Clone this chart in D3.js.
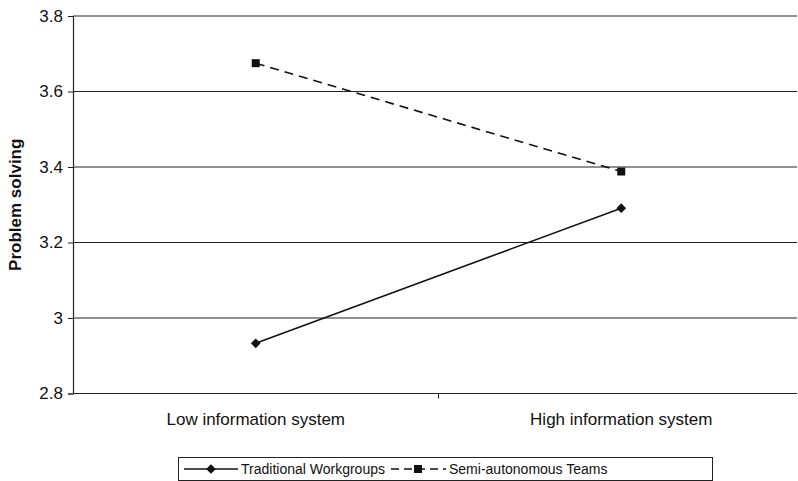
<!DOCTYPE html>
<html>
<head>
<meta charset="utf-8">
<script src="https://cdn.jsdelivr.net/npm/d3@7"></script>
<style>
  body { margin: 0; background: #fff; }
  svg { display: block; font-family: "Liberation Sans", Arial, sans-serif; }
</style>
</head>
<body>
<div id="root"></div>
<script>
const categories = ["Low information system", "High information system"];
const traditional = [2.933, 3.291];
const semiAuto = [3.675, 3.388];
const seriesNames = ["Traditional Workgroups", "Semi-autonomous Teams"];
const yTicks = [2.8, 3, 3.2, 3.4, 3.6, 3.8];

const width = 798;
const height = 481;
const plotLeft = 73, plotRight = 797, plotTop = 16, plotBottom = 393.5;

const svg = d3.select("#root")
  .append("svg")
  .attr("width", width)
  .attr("height", height);

const x = d3.scaleBand().domain(categories).range([plotLeft, 804]);
const y = d3.scaleLinear().domain([2.8, 3.8]).range([plotBottom, plotTop]);
const cx = d => x(d) + x.bandwidth() / 2;

// gridlines
svg.append("g")
  .selectAll("line")
  .data(yTicks)
  .join("line")
    .attr("x1", plotLeft)
    .attr("x2", plotRight)
    .attr("y1", d => y(d))
    .attr("y2", d => y(d))
    .attr("stroke", "#222")
    .attr("stroke-width", 1.2);

// y axis
const yAxis = svg.append("g")
  .attr("transform", `translate(${plotLeft},0)`)
  .call(d3.axisLeft(y).tickValues(yTicks).tickSize(5).tickPadding(5)
    .tickFormat(d => d3.format("")(d)));
yAxis.select(".domain").attr("stroke", "#222").attr("stroke-width", 1.2);
yAxis.selectAll(".tick line").attr("stroke", "#222");
yAxis.selectAll("text").attr("font-size", 17).attr("fill", "#111")
  .attr("font-family", "Liberation Sans, Arial, sans-serif");

// x axis
const xAxis = svg.append("g")
  .attr("transform", `translate(0,${plotBottom})`)
  .call(d3.axisBottom(x).tickSize(0).tickPadding(19));
xAxis.select(".domain").remove();
xAxis.selectAll("text").attr("font-size", 17).attr("fill", "#111")
  .attr("font-family", "Liberation Sans, Arial, sans-serif");
svg.append("line")
  .attr("x1", x(categories[1]))
  .attr("x2", x(categories[1]))
  .attr("y1", plotBottom)
  .attr("y2", plotBottom + 5)
  .attr("stroke", "#222");

// y title
svg.append("text")
  .attr("transform", `translate(21,${(plotTop + plotBottom) / 2}) rotate(-90)`)
  .attr("text-anchor", "middle")
  .attr("font-size", 17)
  .attr("font-weight", "bold")
  .attr("fill", "#111")
  .text("Problem solving");

const line = d3.line().x((d, i) => cx(categories[i])).y(d => y(d));

svg.append("path")
  .datum(traditional)
  .attr("d", line)
  .attr("fill", "none")
  .attr("stroke", "#111")
  .attr("stroke-width", 1.6);

svg.append("path")
  .datum(semiAuto)
  .attr("d", line)
  .attr("fill", "none")
  .attr("stroke", "#111")
  .attr("stroke-width", 1.6)
  .attr("stroke-dasharray", "9,6");

const diamond = d3.symbol().type(d3.symbolDiamond2).size(60);
const square = d3.symbol().type(d3.symbolSquare).size(64);

svg.selectAll(".trad-pt")
  .data(traditional)
  .join("path")
    .attr("class", "trad-pt")
    .attr("transform", (d, i) => `translate(${cx(categories[i])},${y(d)})`)
    .attr("d", diamond)
    .attr("fill", "#111");

svg.selectAll(".semi-pt")
  .data(semiAuto)
  .join("path")
    .attr("class", "semi-pt")
    .attr("transform", (d, i) => `translate(${cx(categories[i])},${y(d)})`)
    .attr("d", square)
    .attr("fill", "#111");

// legend
const legend = svg.append("g");
legend.append("rect")
  .attr("x", 178.5).attr("y", 457.5)
  .attr("width", 534).attr("height", 23)
  .attr("fill", "none").attr("stroke", "#222");

const ly = 469;
legend.append("line").attr("x1", 184).attr("x2", 238).attr("y1", ly).attr("y2", ly)
  .attr("stroke", "#111").attr("stroke-width", 1.6);
legend.append("path").attr("transform", `translate(211,${ly})`).attr("d", diamond).attr("fill", "#111");
legend.append("text").attr("x", 241).attr("y", ly + 5).attr("font-size", 14).attr("fill", "#111")
  .text(seriesNames[0]);

legend.append("line").attr("x1", 391).attr("x2", 446).attr("y1", ly).attr("y2", ly)
  .attr("stroke", "#111").attr("stroke-width", 1.6).attr("stroke-dasharray", "8,5");
legend.append("path").attr("transform", `translate(418,${ly})`).attr("d", square).attr("fill", "#111");
legend.append("text").attr("x", 449).attr("y", ly + 5).attr("font-size", 14).attr("fill", "#111")
  .text(seriesNames[1]);
</script>
</body>
</html>
